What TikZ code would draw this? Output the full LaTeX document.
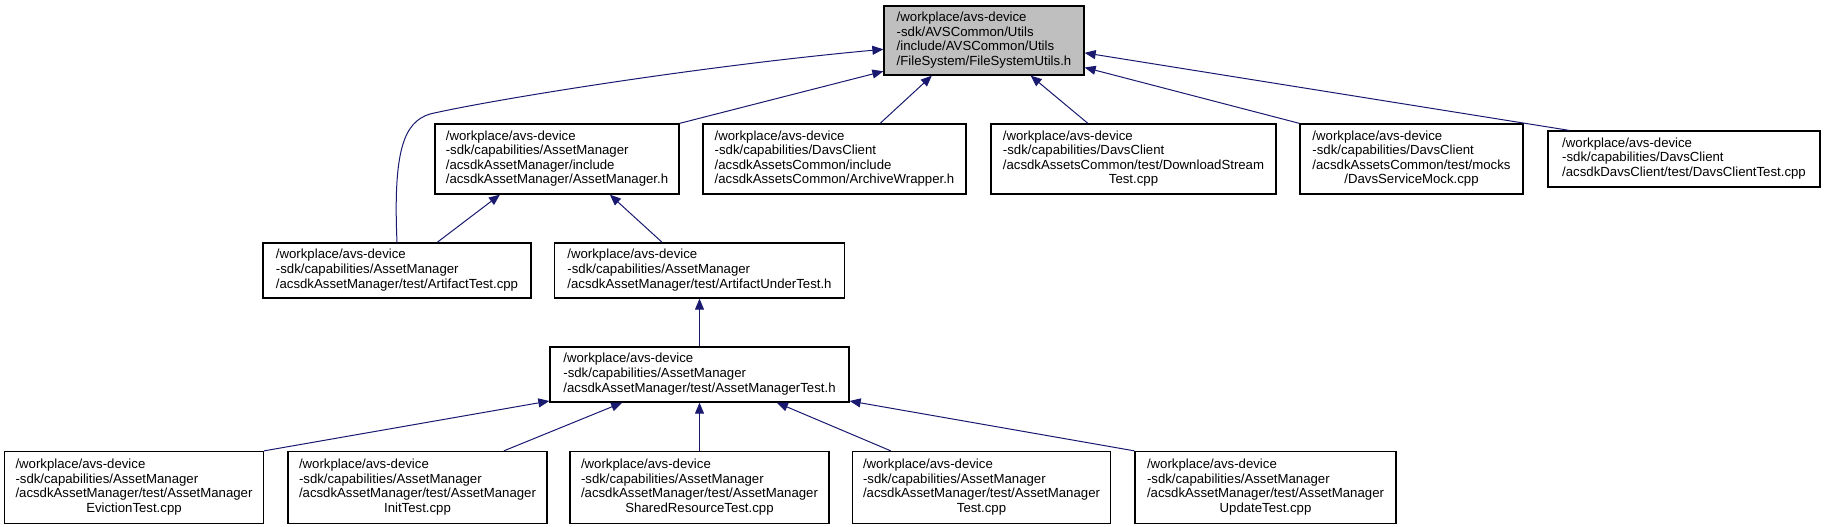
\documentclass[tikz,border=0pt]{standalone}
\usepackage{fontspec}
\setmainfont{Liberation Sans}
\usepackage{xcolor}
\usepackage{tikz}
\usetikzlibrary{arrows.meta}
\definecolor{edgeblue}{HTML}{191970}
\definecolor{rootgray}{HTML}{BFBFBF}
\newcommand{\flines}[1]{\begin{tabular}{@{}l@{}}#1\end{tabular}}
\newcommand{\lastc}[1]{\multicolumn{1}{@{}c@{}}{#1}}

\begin{document}
\begin{tikzpicture}[
  x=1pt, y=-1pt,
  file/.style={draw, line width=1.3pt, inner sep=0pt, align=center, font=\fontsize{13.2}{14.6}\selectfont, minimum height=70pt},
  short/.style={file, minimum height=55pt},
  inc/.style={-{Triangle[length=11pt,width=9pt]}, draw=edgeblue, line width=1pt}
]
\useasboundingbox (0,0) rectangle (1825,527);

% top row
\node[file, fill=rootgray, minimum width=200pt, minimum height=69pt] (root) at (984,40.5) {\flines{/workplace/avs-device\\-sdk/AVSCommon/Utils\\/include/AVSCommon/Utils\\/FileSystem/FileSystemUtils.h}};

% second row
\node[file, minimum width=244pt] (amh) at (557,159) {\flines{/workplace/avs-device\\-sdk/capabilities/AssetManager\\/acsdkAssetManager/include\\/acsdkAssetManager/AssetManager.h}};
\node[file, minimum width=263pt] (arch) at (834.5,159) {\flines{/workplace/avs-device\\-sdk/capabilities/DavsClient\\/acsdkAssetsCommon/include\\/acsdkAssetsCommon/ArchiveWrapper.h}};
\node[file, minimum width=285pt] (dls) at (1133.5,159) {\flines{/workplace/avs-device\\-sdk/capabilities/DavsClient\\/acsdkAssetsCommon/test/DownloadStream\\\lastc{Test.cpp}}};
\node[file, minimum width=223pt] (mock) at (1411.5,159) {\flines{/workplace/avs-device\\-sdk/capabilities/DavsClient\\/acsdkAssetsCommon/test/mocks\\\lastc{/DavsServiceMock.cpp}}};
\node[short, minimum width=272pt, minimum height=56pt] (dct) at (1684,159) {\flines{/workplace/avs-device\\-sdk/capabilities/DavsClient\\/acsdkDavsClient/test/DavsClientTest.cpp}};

% third and fourth row
\node[short, minimum width=268pt] (art) at (397,270.5) {\flines{/workplace/avs-device\\-sdk/capabilities/AssetManager\\/acsdkAssetManager/test/ArtifactTest.cpp}};
\node[short, minimum width=290pt] (aut) at (699.5,270.5) {\flines{/workplace/avs-device\\-sdk/capabilities/AssetManager\\/acsdkAssetManager/test/ArtifactUnderTest.h}};
\node[short, minimum width=299pt] (amt) at (699.5,374.5) {\flines{/workplace/avs-device\\-sdk/capabilities/AssetManager\\/acsdkAssetManager/test/AssetManagerTest.h}};

% bottom row
\node[file, minimum width=259pt, minimum height=72pt] (ev) at (134,487.5) {\flines{/workplace/avs-device\\-sdk/capabilities/AssetManager\\/acsdkAssetManager/test/AssetManager\\\lastc{EvictionTest.cpp}}};
\node[file, minimum width=259pt, minimum height=72pt] (init) at (417.5,487.5) {\flines{/workplace/avs-device\\-sdk/capabilities/AssetManager\\/acsdkAssetManager/test/AssetManager\\\lastc{InitTest.cpp}}};
\node[file, minimum width=259pt, minimum height=72pt] (shr) at (699.5,487.5) {\flines{/workplace/avs-device\\-sdk/capabilities/AssetManager\\/acsdkAssetManager/test/AssetManager\\\lastc{SharedResourceTest.cpp}}};
\node[file, minimum width=258pt, minimum height=72pt] (tst) at (981.5,487.5) {\flines{/workplace/avs-device\\-sdk/capabilities/AssetManager\\/acsdkAssetManager/test/AssetManager\\\lastc{Test.cpp}}};
\node[file, minimum width=261pt, minimum height=72pt] (upd) at (1265.5,487.5) {\flines{/workplace/avs-device\\-sdk/capabilities/AssetManager\\/acsdkAssetManager/test/AssetManager\\\lastc{UpdateTest.cpp}}};

% includes
\draw[inc] (art.north) .. controls (393,150) and (404,122) .. (430,114) .. controls (490,100) and (700,66) .. (root.185);
\draw[inc] (amh.north east) -- (root.197);
\draw[inc] (arch.38) -- (root.214);
\draw[inc] (dls.142) -- (root.323);
\draw[inc] (mock.north west) -- (root.345);
\draw[inc] (dct.166) -- (root.353);
\draw[inc] (art.35) -- (amh.212);
\draw[inc] (aut.143) -- (amh.326);
\draw[inc] (amt.north) -- (aut.south);
\draw[inc] (ev.north east) -- (amt.190);
\draw[inc] (init.23) -- (amt.200);
\draw[inc] (shr.north) -- (amt.south);
\draw[inc] (tst.158) -- (amt.340);
\draw[inc] (upd.north west) -- (amt.350);
\end{tikzpicture}
\end{document}
